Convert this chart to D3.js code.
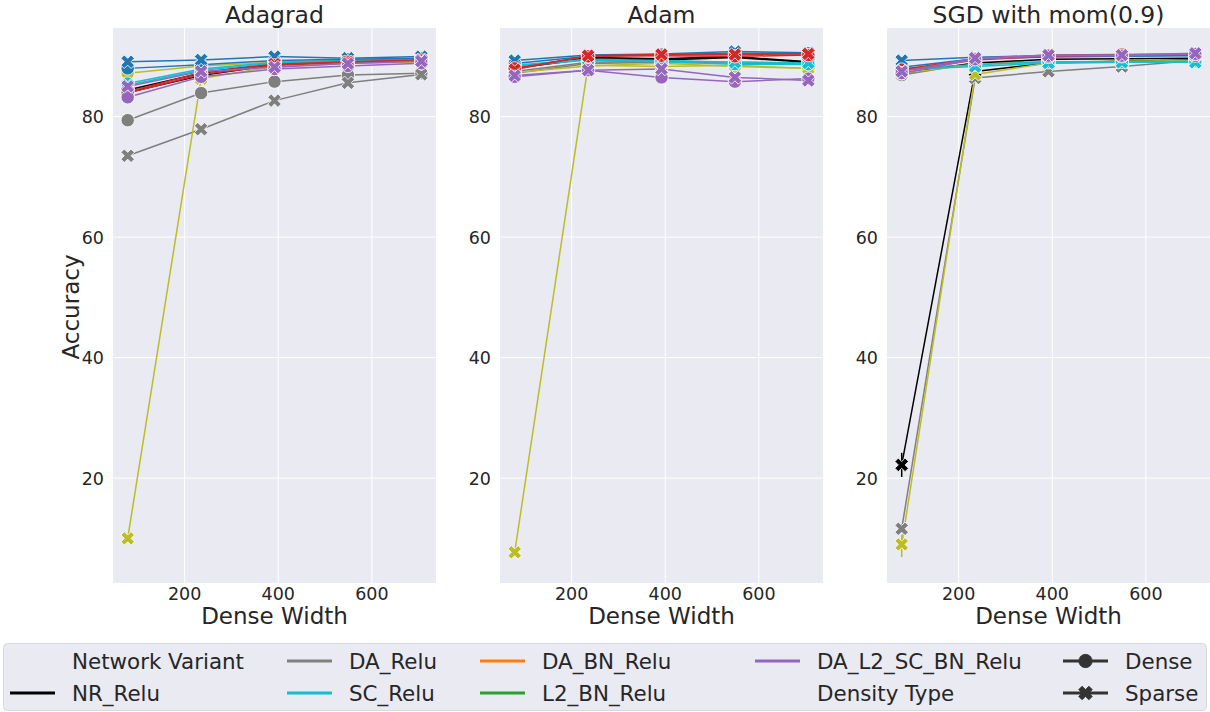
<!DOCTYPE html>
<html>
<head>
<meta charset="utf-8">
<script src="https://cdn.jsdelivr.net/npm/d3@7"></script>
<style>
    body { margin: 0; background: #ffffff; }
    svg text { font-family: "DejaVu Sans", sans-serif; fill: #262626; }
</style>
</head>
<body>
<div id="chart"></div>
<script>
"use strict";

// x positions (dense layer widths) and panel titles
var denseWidths = [78.4, 235.2, 392, 548.8, 705.6];
var panelTitles = ["Adagrad", "Adam", "SGD with mom(0.9)"];
var xTicks = [200, 400, 600];
var yTicks = [20, 40, 60, 80];

var variantNames = ["DA_Relu", "NR_Relu", "L2_Relu", "SC_Relu", "SC_BN_Relu", "BN_Relu", "DA_L2_SC_BN_Relu", "DA_BN_Relu", "L2_BN_Relu"];
var variantColors = ["#7f7f7f", "#000000", "#bcbd22", "#17becf", "#1f77b4", "#d62728", "#9467bd", "#ff7f0e", "#2ca02c"];

// [variant, density type, accuracy per width]
var adagradSeries = [
    ["DA_Relu", "Dense", [79.4, 83.9, 85.8, 86.9, 87.2]],
    ["DA_Relu", "Sparse", [73.5, 77.9, 82.65, 85.6, 87.0]],
    ["NR_Relu", "Dense", [84.4, 87.2, 88.9, 89.2, 89.4]],
    ["NR_Relu", "Sparse", [84.0, 86.8, 88.6, 89.0, 89.3]],
    ["L2_Relu", "Dense", [87.2, 88.4, 89.0, 89.3, 89.5]],
    ["L2_Relu", "Sparse", [10.0, 86.3, 88.3, 88.8, 89.1]],
    ["SC_Relu", "Dense", [85.5, 87.9, 89.0, 89.3, 89.6]],
    ["SC_Relu", "Sparse", [85.2, 87.7, 88.8, 89.2, 89.5]],
    ["SC_BN_Relu", "Dense", [88.0, 88.6, 89.3, 89.5, 89.7]],
    ["SC_BN_Relu", "Sparse", [89.1, 89.4, 89.95, 89.7, 89.95]],
    ["BN_Relu", "Dense", [83.9, 87.0, 88.5, 89.0, 89.3]],
    ["BN_Relu", "Sparse", [84.1, 87.3, 88.7, 89.1, 89.4]],
    ["DA_L2_SC_BN_Relu", "Dense", [83.2, 86.6, 87.9, 88.4, 88.85]],
    ["DA_L2_SC_BN_Relu", "Sparse", [85.0, 87.5, 88.2, 88.8, 89.2]]
];

var adamSeries = [
    ["DA_Relu", "Dense", [87.5, 89.0, 89.2, 89.0, 88.9]],
    ["DA_Relu", "Sparse", [87.2, 88.8, 89.0, 88.9, 88.7]],
    ["NR_Relu", "Dense", [88.2, 89.8, 89.6, 89.95, 89.1]],
    ["NR_Relu", "Sparse", [88.0, 89.6, 89.4, 89.8, 89.0]],
    ["L2_Relu", "Dense", [87.3, 88.4, 88.85, 88.3, 88.0]],
    ["L2_Relu", "Sparse", [7.7, 88.5, 88.3, 88.5, 88.0]],
    ["SC_Relu", "Dense", [88.3, 89.4, 89.1, 88.7, 88.7]],
    ["SC_Relu", "Sparse", [88.5, 89.5, 89.3, 89.0, 88.9]],
    ["SC_BN_Relu", "Dense", [88.8, 90.0, 90.3, 90.5, 90.5]],
    ["SC_BN_Relu", "Sparse", [89.3, 90.2, 90.4, 90.8, 90.6]],
    ["BN_Relu", "Dense", [88.0, 90.0, 90.1, 90.0, 90.2]],
    ["BN_Relu", "Sparse", [87.8, 90.1, 90.3, 90.3, 90.4]],
    ["DA_L2_SC_BN_Relu", "Dense", [86.6, 87.7, 86.5, 85.8, 86.3]],
    ["DA_L2_SC_BN_Relu", "Sparse", [86.8, 87.7, 87.9, 86.5, 86.0]]
];

var sgdSeries = [
    ["DA_Relu", "Dense", [86.9, 88.9, 89.0, 89.2, 89.3]],
    ["DA_Relu", "Sparse", [11.6, 86.4, 87.5, 88.3, 89.3]],
    ["NR_Relu", "Dense", [87.2, 88.9, 89.5, 89.6, 89.7]],
    ["NR_Relu", "Sparse", [22.2, 87.5, 88.9, 89.2, 89.4]],
    ["L2_Relu", "Dense", [87.2, 88.7, 89.0, 89.2, 89.3]],
    ["L2_Relu", "Sparse", [9.0, 87.0, 88.9, 89.0, 89.0]],
    ["SC_Relu", "Dense", [88.0, 88.6, 89.1, 89.1, 89.2]],
    ["SC_Relu", "Sparse", [87.8, 88.3, 88.9, 89.0, 89.0]],
    ["SC_BN_Relu", "Dense", [88.2, 89.6, 89.9, 90.0, 90.1]],
    ["SC_BN_Relu", "Sparse", [89.3, 89.85, 90.1, 90.1, 90.2]],
    ["BN_Relu", "Dense", [87.8, 89.6, 90.2, 90.3, 90.4]],
    ["BN_Relu", "Sparse", [87.6, 89.4, 90.0, 90.2, 90.3]],
    ["DA_L2_SC_BN_Relu", "Dense", [87.2, 89.5, 90.1, 90.1, 90.4]],
    ["DA_L2_SC_BN_Relu", "Sparse", [87.5, 89.7, 90.2, 90.2, 90.5]]
];

// [variant, density, point index, low, high]
var sgdErrors = [
    ["NR_Relu", "Sparse", 0, 20.2, 24.2],
    ["L2_Relu", "Sparse", 0, 6.9, 10.6],
    ["DA_Relu", "Sparse", 0, 10.9, 12.3]
];

var panelSeries = [adagradSeries, adamSeries, sgdSeries];
var panelErrors = [[], [], sgdErrors];

// legend columns: [label, kind] per row
var legendCols = [
    [["Network Variant", "header"], ["NR_Relu", "NR_Relu"]],
    [["DA_Relu", "DA_Relu"], ["SC_Relu", "SC_Relu"]],
    [["DA_BN_Relu", "DA_BN_Relu"], ["L2_BN_Relu", "L2_BN_Relu"]],
    [["DA_L2_SC_BN_Relu", "DA_L2_SC_BN_Relu"], ["Density Type", "header"]],
    [["Dense", "Dense"], ["Sparse", "Sparse"]]
];

var width = 1210, height = 712;
var panelLefts = [113, 500, 887];
var panelW = 323, panelTop = 28, panelBottom = 583;

var color = d3.scaleOrdinal().domain(variantNames).range(variantColors);

var svg = d3.select("#chart").append("svg")
    .attr("width", width)
    .attr("height", height);

var y = d3.scaleLinear().domain([2.6, 94.7]).range([panelBottom, panelTop]);

var circlePath = d3.symbol().type(d3.symbolCircle).size(140)();
var crossPath = d3.symbol().type(d3.symbolCross).size(115)();

function drawMarker(g, density, cx, cy, fill, stroke) {
    if (density === "Dense") {
        g.append("path").attr("d", circlePath)
            .attr("transform", "translate(" + cx + "," + cy + ")")
            .attr("fill", fill).attr("stroke", stroke).attr("stroke-width", 0.8);
    } else {
        g.append("path").attr("d", crossPath)
            .attr("transform", "translate(" + cx + "," + cy + ") rotate(45)")
            .attr("fill", fill).attr("stroke", stroke).attr("stroke-width", 0.8);
    }
}

panelTitles.forEach(function (title, p) {
    var left = panelLefts[p];
    var x = d3.scaleLinear().domain([47, 737]).range([left, left + panelW]);
    var g = svg.append("g");

    g.append("rect")
        .attr("x", left).attr("y", panelTop)
        .attr("width", panelW).attr("height", panelBottom - panelTop)
        .attr("fill", "#eaeaf2");

    // grid
    g.selectAll(".gx").data(xTicks).enter().append("line")
        .attr("x1", function (d) { return x(d); }).attr("x2", function (d) { return x(d); })
        .attr("y1", panelTop).attr("y2", panelBottom)
        .attr("stroke", "#ffffff").attr("stroke-width", 1);
    g.selectAll(".gy").data(yTicks).enter().append("line")
        .attr("x1", left).attr("x2", left + panelW)
        .attr("y1", function (d) { return y(d); }).attr("y2", function (d) { return y(d); })
        .attr("stroke", "#ffffff").attr("stroke-width", 1);

    // tick labels
    g.selectAll(".tx").data(xTicks).enter().append("text")
        .attr("x", function (d) { return x(d); })
        .attr("y", 600)
        .attr("text-anchor", "middle")
        .attr("font-size", "17.5px")
        .text(function (d) { return d; });
    g.selectAll(".ty").data(yTicks).enter().append("text")
        .attr("x", left - 9)
        .attr("y", function (d) { return y(d) + 6.5; })
        .attr("text-anchor", "end")
        .attr("font-size", "17.5px")
        .text(function (d) { return d; });

    g.append("text")
        .attr("x", left + panelW / 2).attr("y", 23)
        .attr("text-anchor", "middle").attr("font-size", "23.5px")
        .text(title);
    g.append("text")
        .attr("x", left + panelW / 2).attr("y", 624)
        .attr("text-anchor", "middle").attr("font-size", "23px")
        .text("Dense Width");

    var line = d3.line()
        .x(function (d, i) { return x(denseWidths[i]); })
        .y(function (d) { return y(d); });

    panelSeries[p].forEach(function (s) {
        var c = color(s[0]);
        g.append("path")
            .attr("d", line(s[2]))
            .attr("fill", "none")
            .attr("stroke", c)
            .attr("stroke-width", 1.5);
    });

    panelErrors[p].forEach(function (e) {
        var cx = x(denseWidths[e[2]]);
        g.append("line")
            .attr("x1", cx).attr("x2", cx)
            .attr("y1", y(e[3])).attr("y2", y(e[4]))
            .attr("stroke", color(e[0])).attr("stroke-width", 1.5);
    });

    panelSeries[p].forEach(function (s) {
        var c = color(s[0]);
        s[2].forEach(function (v, i) {
            drawMarker(g, s[1], x(denseWidths[i]), y(v), c, "#ffffff");
        });
    });
});

svg.append("text")
    .attr("transform", "translate(79,307) rotate(-90)")
    .attr("text-anchor", "middle").attr("font-size", "23px")
    .text("Accuracy");

// legend
var lg = svg.append("g");
lg.append("rect")
    .attr("x", 3.5).attr("y", 643.5)
    .attr("width", 1203).attr("height", 67)
    .attr("rx", 4)
    .attr("fill", "#eaeaf2")
    .attr("stroke", "#d8d8e0");

var colX = [10, 287, 480, 755, 1063];
var rowY = [661, 693];

legendCols.forEach(function (col, ci) {
    col.forEach(function (item, ri) {
        var hx = colX[ci], ty = rowY[ri];
        if (item[1] !== "header") {
            var isMarker = item[1] === "Dense" || item[1] === "Sparse";
            var c = isMarker ? "#333333" : color(item[1]);
            lg.append("line")
                .attr("x1", hx).attr("x2", hx + 45)
                .attr("y1", ty).attr("y2", ty)
                .attr("stroke", c).attr("stroke-width", 3);
            if (isMarker) {
                drawMarker(lg, item[1], hx + 22.5, ty, c, c);
            }
        }
        lg.append("text")
            .attr("x", hx + 62).attr("y", ty + 7.5)
            .attr("font-size", "21.4px")
            .text(item[0]);
    });
});
</script>
</body>
</html>
